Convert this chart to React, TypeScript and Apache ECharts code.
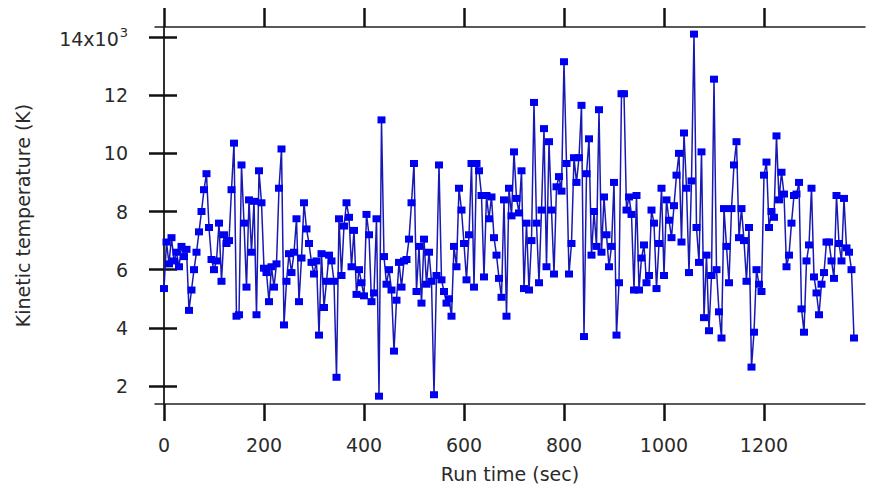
import React, { useEffect, useRef } from "react";
import * as echarts from "echarts";

// Sampling interval of the run (seconds)
const sampleInterval = 5;

// Kinetic temperature, units of 10^3 K, one value per sample
const temperature: number[] = [
  5.35, 6.95, 6.2, 7.1, 6.3, 6.6, 6.1, 6.8, 6.45, 6.7,
  4.6, 5.3, 6.0, 6.6, 7.3, 8.0, 8.75, 9.3, 7.45, 6.35,
  6.0, 6.3, 7.6, 5.6, 7.2, 6.9, 7.0, 8.75, 10.35, 4.4,
  4.45, 9.6, 7.6, 5.4, 8.4, 6.6, 8.35, 4.45, 9.4, 8.3,
  6.05, 5.9, 4.9, 6.1, 5.4, 6.2, 8.8, 10.15, 4.1, 5.6,
  6.55, 5.9, 6.6, 7.75, 4.9, 6.4, 8.3, 7.4, 6.9, 6.25,
  5.85, 6.3, 3.75, 6.55, 4.7, 5.6, 6.5, 6.3, 5.6, 2.3,
  7.75, 5.8, 7.5, 8.3, 7.8, 6.1, 7.35, 5.15, 6.0, 5.55,
  5.1, 7.9, 7.2, 4.9, 5.2, 7.75, 1.65, 11.15, 6.45, 5.5,
  6.0, 5.3, 3.2, 4.95, 6.25, 5.4, 6.3, 6.35, 7.05, 8.3,
  9.65, 5.25, 6.8, 4.85, 7.05, 5.5, 6.6, 5.6, 1.7, 5.8,
  9.6, 5.65, 5.25, 4.85, 5.0, 4.4, 6.8, 6.1, 8.8, 8.05,
  6.9, 5.65, 7.2, 9.65, 5.4, 9.65, 9.4, 8.55, 5.75, 8.55,
  7.75, 8.5, 7.1, 6.5, 5.7, 5.05, 8.4, 4.4, 8.8, 7.85,
  10.05, 8.45, 7.95, 9.4, 5.35, 7.6, 5.3, 7.0, 11.75, 7.6,
  5.55, 8.05, 10.85, 6.1, 10.4, 8.05, 5.85, 8.85, 9.2, 8.7,
  13.15, 9.65, 5.85, 6.9, 9.85, 9.0, 9.85, 11.65, 3.7, 9.3,
  10.5, 6.5, 8.0, 6.8, 11.5, 6.6, 8.5, 7.2, 6.1, 6.8,
  9.0, 3.75, 5.55, 12.05, 12.05, 8.05, 8.5, 7.9, 5.3, 8.55,
  5.3, 6.4, 6.85, 5.55, 5.8, 8.05, 7.6, 5.35, 6.9, 8.8,
  5.8, 8.4, 7.7, 7.1, 8.2, 9.25, 10.0, 6.95, 10.7, 8.8,
  5.9, 9.05, 14.1, 7.45, 6.25, 10.05, 4.35, 6.5, 3.9, 5.8,
  12.55, 6.0, 4.55, 3.65, 8.1, 6.8, 5.55, 8.1, 9.6, 10.4,
  7.1, 8.1, 7.0, 5.6, 7.45, 2.65, 3.85, 6.0, 5.5, 5.25,
  9.25, 9.7, 7.45, 8.0, 7.8, 10.6, 8.4, 9.35, 8.6, 6.1,
  6.5, 7.6, 8.55, 8.6, 9.0, 4.65, 3.85, 6.3, 6.85, 8.8,
  5.75, 5.2, 4.45, 5.5, 5.9, 6.95, 6.95, 6.3, 5.7, 8.55,
  6.9, 6.3, 8.45, 6.75, 6.6, 6.0, 3.65,
];

const xTicks = [0, 200, 400, 600, 800, 1000, 1200];
const yTicks = [2, 4, 6, 8, 10, 12, 14];

const FONT = "DejaVu Sans";
const TEXT_COLOR = "#2a2a2a";

export default function App() {
  const ref = useRef<HTMLDivElement>(null);

  useEffect(() => {
    if (!ref.current) return;
    const chart = echarts.init(ref.current, undefined, { renderer: "svg" });
    const data = temperature.map((v, i) => [i * sampleInterval, v]);

    const xMin = -18;
    const xMax = 1402;
    const yMin = 1.381;
    const yMax = 14.344;

    const frameLine = { show: true, lineStyle: { color: "#222", width: 1.5 } };

    chart.setOption({
      animation: false,
      backgroundColor: "#fff",
      grid: { left: 155, right: 13, top: 27, bottom: 89, containLabel: false },
      xAxis: [
        {
          type: "value",
          position: "bottom",
          min: xMin,
          max: xMax,
          axisLine: frameLine,
          axisTick: {
            show: true,
            inside: false,
            length: 17,
            customValues: xTicks,
            lineStyle: { color: "#111", width: 2.5 },
          },
          axisLabel: {
            customValues: xTicks,
            margin: 31,
            fontFamily: FONT,
            fontSize: 19,
            color: TEXT_COLOR,
            formatter: (v: number) => String(v),
          },
          splitLine: { show: false },
          name: "Run time (sec)",
          nameLocation: "middle",
          nameGap: 60,
          nameTextStyle: { fontFamily: FONT, fontSize: 19, color: TEXT_COLOR },
        },
        {
          type: "value",
          position: "top",
          min: xMin,
          max: xMax,
          axisLine: frameLine,
          axisTick: {
            show: true,
            inside: false,
            length: 19,
            customValues: xTicks,
            lineStyle: { color: "#111", width: 2.5 },
          },
          axisLabel: { show: false },
          splitLine: { show: false },
        },
      ],
      yAxis: [
        {
          type: "value",
          position: "left",
          min: yMin,
          max: yMax,
          axisLine: frameLine,
          axisTick: {
            show: true,
            inside: false,
            length: 15,
            customValues: yTicks,
            lineStyle: { color: "#111", width: 2.5 },
          },
          axisLabel: {
            customValues: yTicks,
            margin: 27,
            fontFamily: FONT,
            fontSize: 19,
            color: TEXT_COLOR,
            formatter: (v: number) =>
              v === 14 ? "{b|14x10}{s|3}" : "{b|" + String(v) + "}",
            rich: {
              b: { fontFamily: FONT, fontSize: 19, color: TEXT_COLOR, verticalAlign: "bottom" },
              s: {
                fontFamily: FONT,
                fontSize: 13,
                color: TEXT_COLOR,
                verticalAlign: "bottom",
                padding: [0, 0, 9, 1],
              },
            },
          },
          splitLine: { show: false },
          name: "Kinetic temperature (K)",
          nameLocation: "middle",
          nameGap: 123,
          nameTextStyle: { fontFamily: FONT, fontSize: 19, color: TEXT_COLOR },
        },
        {
          type: "value",
          position: "right",
          min: yMin,
          max: yMax,
          axisLine: frameLine,
          axisTick: {
            show: true,
            inside: false,
            length: 13,
            customValues: yTicks,
            lineStyle: { color: "#111", width: 2.5 },
          },
          axisLabel: { show: false },
          splitLine: { show: false },
        },
      ],
      series: [
        {
          type: "line",
          xAxisIndex: 0,
          yAxisIndex: 0,
          data,
          showAllSymbol: true,
          symbol: "rect",
          symbolSize: [8, 7],
          itemStyle: { color: "#0000f0" },
          lineStyle: { color: "#1818b4", width: 1.5 },
        },
      ],
    });

    return () => chart.dispose();
  }, []);

  return (
    <div
      ref={ref}
      style={{ position: "fixed", left: 0, top: 0, width: 878, height: 493, background: "#fff" }}
    />
  );
}
